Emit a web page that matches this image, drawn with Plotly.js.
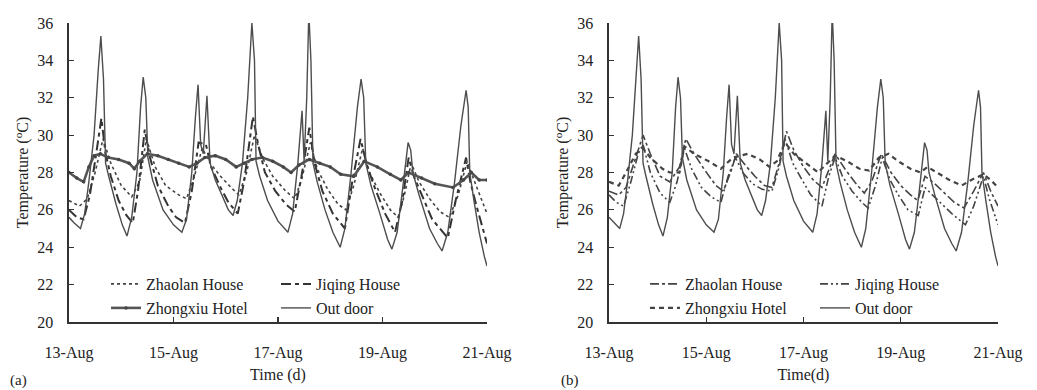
<!DOCTYPE html>
<html><head><meta charset="utf-8">
<script src="https://cdn.plot.ly/plotly-3.0.1.min.js"></script>
<style>html,body{margin:0;padding:0;background:#fff}#chart{width:1037px;height:390px}</style>
</head><body><div id="chart"></div>
<script>
// ---------- data (x = days since 13-Aug 00:00, y = temperature in °C) ----------
const tickDays = [0, 2, 4, 6, 8];
const tickLabels = ['13-Aug', '15-Aug', '17-Aug', '19-Aug', '21-Aug'];
const seriesNames = ['Zhaolan House', 'Jiqing House', 'Zhongxiu Hotel', 'Out door'];

// Outdoor air (same record in both panels)
const outdoorDays = [0.00,0.10,0.22,0.30,0.38,0.48,0.56,0.61,0.66,0.70,0.76,0.90,1.02,1.11,1.20,1.30,1.37,1.42,1.47,1.51,1.60,1.80,2.00,2.16,2.25,2.35,2.42,2.47,2.52,2.57,2.64,2.70,2.80,2.95,3.05,3.14,3.22,3.32,3.42,3.50,3.55,3.58,3.65,3.80,4.00,4.19,4.28,4.38,4.46,4.50,4.55,4.59,4.63,4.67,4.75,4.90,5.05,5.19,5.28,5.40,5.52,5.59,5.64,5.68,5.78,5.95,6.10,6.18,6.28,6.38,6.45,6.49,6.54,6.58,6.70,6.90,7.05,7.14,7.25,7.38,7.50,7.60,7.64,7.67,7.75,7.85,7.95,8.00];
const outdoorTemp = [25.6,25.3,25.0,25.8,27.5,30.0,33.5,35.3,33.0,28.5,27.8,26.3,25.2,24.6,25.6,28.0,31.5,33.1,32.0,28.8,27.6,26.0,25.2,24.8,25.5,28.0,31.0,32.7,29.5,29.0,32.1,28.5,27.6,26.6,26.0,25.7,26.5,28.5,32.0,36.0,34.0,28.6,27.8,26.5,25.4,24.8,25.8,28.5,31.3,28.6,32.0,36.6,34.0,28.5,27.5,26.0,24.8,24.0,25.0,28.0,31.5,33.0,32.0,28.5,27.3,25.8,24.4,23.9,24.8,27.0,28.8,29.6,29.2,28.0,26.8,25.0,24.2,23.8,24.8,27.5,30.5,32.4,31.5,28.0,26.5,24.8,23.5,23.0];

// Panel (a)
const aZhaolanDays = [0.00,0.20,0.35,0.50,0.65,0.80,1.00,1.20,1.35,1.48,1.65,1.85,2.10,2.25,2.40,2.55,2.70,2.90,3.10,3.25,3.40,3.55,3.70,3.90,4.15,4.32,4.45,4.62,4.75,4.95,5.15,5.30,5.45,5.62,5.75,5.95,6.15,6.30,6.42,6.55,6.70,6.90,7.10,7.28,7.45,7.62,7.75,7.90,8.00];
const aZhaolanTemp = [26.5,26.2,26.6,28.0,29.8,28.5,27.3,26.7,27.5,29.8,28.3,27.3,26.8,26.6,27.8,29.3,28.5,27.8,27.2,26.8,28.0,30.0,28.8,27.8,27.0,26.6,27.6,29.6,28.2,27.1,26.3,26.0,27.3,29.3,28.0,26.9,26.0,25.6,26.8,28.5,27.5,26.6,25.9,25.6,26.8,28.6,27.6,26.5,25.8];

const aJiqingDays = [0.00,0.15,0.28,0.40,0.52,0.62,0.70,0.80,0.95,1.10,1.22,1.32,1.45,1.55,1.70,1.90,2.05,2.22,2.35,2.48,2.62,2.72,2.90,3.05,3.23,3.35,3.52,3.62,3.75,3.95,4.15,4.32,4.45,4.60,4.70,4.85,5.05,5.28,5.42,5.58,5.70,5.85,6.05,6.24,6.38,6.50,6.60,6.75,6.95,7.25,7.40,7.60,7.68,7.80,8.00];
const aJiqingTemp = [26.0,25.6,25.5,26.8,29.0,30.9,29.0,27.8,26.5,25.7,25.3,27.0,30.3,28.8,27.3,26.2,25.6,25.3,27.0,29.6,29.5,28.3,27.2,26.4,25.8,27.5,31.0,29.5,28.0,27.0,26.3,25.9,27.8,30.4,28.5,27.0,25.8,25.0,27.5,29.8,28.4,27.2,25.8,24.8,26.5,28.8,27.8,26.8,25.5,24.5,26.5,28.8,27.5,26.2,24.2];

const aZhongxiuDays = [0.00,0.15,0.28,0.38,0.48,0.60,0.75,0.95,1.15,1.25,1.35,1.50,1.70,1.90,2.10,2.30,2.45,2.60,2.80,3.00,3.20,3.35,3.50,3.70,3.90,4.10,4.25,4.40,4.60,4.80,5.00,5.20,5.45,5.65,5.90,6.15,6.35,6.50,6.75,7.00,7.35,7.55,7.70,7.85,8.00];
const aZhongxiuTemp = [28.0,27.7,27.5,28.3,28.9,29.0,28.8,28.7,28.5,28.2,28.6,29.0,28.9,28.7,28.5,28.3,28.5,28.8,28.9,28.7,28.3,28.5,28.7,28.8,28.6,28.3,28.0,28.4,28.7,28.5,28.3,27.9,27.8,28.6,28.3,27.9,27.6,28.0,27.7,27.4,27.2,27.6,28.0,27.6,27.6];

// Panel (b)
const bZhaolanDays = [0.00,0.20,0.35,0.55,0.70,0.85,1.05,1.25,1.45,1.58,1.75,1.95,2.20,2.35,2.50,2.62,2.80,3.00,3.20,3.35,3.50,3.65,3.80,4.00,4.20,4.38,4.50,4.65,4.85,5.05,5.25,5.40,5.60,5.80,6.00,6.20,6.35,6.50,6.70,6.90,7.10,7.30,7.50,7.70,7.85,8.00];
const bZhaolanTemp = [27.0,26.8,27.2,28.8,30.0,29.0,27.8,27.5,28.3,29.8,29.0,28.2,27.3,27.0,28.0,29.0,28.4,27.8,27.3,27.2,28.5,30.2,29.2,28.3,27.6,27.2,28.0,29.0,28.2,27.5,26.9,27.5,29.0,28.0,27.3,26.8,26.5,27.8,27.4,26.9,26.4,26.1,27.0,28.0,27.0,26.2];

const bJiqingDays = [0.00,0.15,0.30,0.45,0.60,0.70,0.85,1.05,1.25,1.40,1.55,1.70,1.90,2.10,2.30,2.45,2.60,2.75,2.95,3.15,3.35,3.50,3.62,3.78,3.95,4.15,4.38,4.52,4.65,4.80,5.00,5.20,5.33,5.48,5.62,5.78,5.95,6.15,6.36,6.50,6.65,6.85,7.05,7.33,7.50,7.70,7.82,8.00];
const bJiqingTemp = [26.8,26.4,26.2,27.5,29.0,29.5,28.0,26.9,26.4,27.5,29.3,28.2,27.2,26.7,26.4,27.8,28.8,28.0,27.4,27.1,27.0,28.3,29.8,28.5,27.7,26.8,26.2,27.8,28.8,27.8,27.0,26.4,26.1,27.3,28.8,27.6,26.8,26.0,25.7,27.2,26.8,26.3,25.8,25.2,26.2,27.8,26.6,25.2];

const bZhongxiuDays = [0.00,0.20,0.35,0.55,0.70,0.85,1.10,1.25,1.45,1.55,1.75,2.05,2.30,2.55,2.85,3.10,3.30,3.45,3.62,3.80,4.05,4.30,4.45,4.65,4.90,5.15,5.35,5.55,5.75,5.95,6.20,6.40,6.55,6.75,7.00,7.25,7.45,7.70,7.85,8.00];
const bZhongxiuTemp = [27.5,27.3,28.0,29.0,29.3,28.8,28.2,28.0,28.0,29.4,29.0,28.6,28.2,28.8,29.0,28.7,28.3,28.6,29.6,29.0,28.5,28.0,28.4,28.9,28.6,28.2,28.1,28.8,29.0,28.6,28.2,28.0,28.3,28.0,27.6,27.3,27.6,27.9,27.6,27.2];

// ---------- drawing ----------
const F = 'Liberation Serif, Times New Roman, serif';
const INK = '#444';

function tr(x, y, name, xa, ya, leg, line, extra) {
  return Object.assign({x: x, y: y, name: name, type: 'scatter', mode: 'lines',
    xaxis: xa, yaxis: ya, legend: leg, line: line, hoverinfo: 'skip'}, extra || {});
}

const data = [
  tr(aZhaolanDays, aZhaolanTemp, seriesNames[0], 'x', 'y', 'legend', {color: INK, width: 1.6, dash: 'dot'}),
  tr(aJiqingDays, aJiqingTemp, seriesNames[1], 'x', 'y', 'legend', {color: '#333', width: 2, dash: '10px,4px,4px,4px'}),
  tr(aZhongxiuDays, aZhongxiuTemp, seriesNames[2], 'x', 'y', 'legend2', {color: '#555', width: 2.6},
     {mode: 'lines+markers', marker: {size: 3.5, color: '#444'}}),
  tr(outdoorDays, outdoorTemp, seriesNames[3], 'x', 'y', 'legend2', {color: '#4d4d4d', width: 1.4}),

  tr(bZhaolanDays, bZhaolanTemp, seriesNames[0], 'x2', 'y2', 'legend3', {color: INK, width: 1.6, dash: 'dashdot'}),
  tr(bJiqingDays, bJiqingTemp, seriesNames[1], 'x2', 'y2', 'legend3', {color: INK, width: 1.6, dash: '8px,3px,2px,3px,2px,3px'}),
  tr(bZhongxiuDays, bZhongxiuTemp, seriesNames[2], 'x2', 'y2', 'legend4', {color: '#444', width: 2.2, dash: '5px,4px'}),
  tr(outdoorDays, outdoorTemp, seriesNames[3], 'x2', 'y2', 'legend4', {color: '#4d4d4d', width: 1.4})
];

const W = 1037, H = 390;
const yDom = [1 - 322 / H, 1 - 23 / H];

function xAxis(dom, anchor, title) {
  return {domain: dom, anchor: anchor, range: [0, 8], tickvals: tickDays, ticktext: tickLabels,
    ticks: 'inside', ticklen: 5, tickwidth: 1.2, tickcolor: '#333', showline: true, linecolor: '#333',
    linewidth: 1.6, showgrid: false, zeroline: false, ticklabelstandoff: 15,
    tickfont: {family: F, size: 16, color: '#222'},
    title: {text: title, font: {family: F, size: 16, color: '#222'}, standoff: 8}};
}
function yAxis(anchor) {
  return {domain: yDom, anchor: anchor, range: [20, 36], dtick: 2, ticks: 'inside', ticklen: 5,
    tickwidth: 1.2, tickcolor: '#333', showline: true, linecolor: '#333', linewidth: 1.6,
    showgrid: false, zeroline: false, ticklabelstandoff: 11,
    tickfont: {family: F, size: 16, color: '#222'},
    title: {text: 'Temperature (<sup>o</sup>C)', font: {family: F, size: 16, color: '#222'}, standoff: 4}};
}
function leg(xpx, ypx) {
  return {x: xpx / W, y: 1 - ypx / H, xanchor: 'left', yanchor: 'middle', orientation: 'h',
    entrywidth: 125, entrywidthmode: 'pixels', bgcolor: 'rgba(0,0,0,0)', borderwidth: 0,
    font: {family: F, size: 16, color: '#222'}, traceorder: 'normal', itemclick: false};
}

const layout = {
  width: W, height: H, margin: {l: 0, r: 0, t: 0, b: 0},
  paper_bgcolor: '#fff', plot_bgcolor: 'rgba(0,0,0,0)',
  xaxis: xAxis([69 / W, 487 / W], 'y', 'Time (d)'),
  yaxis: yAxis('x'),
  xaxis2: xAxis([609 / W, 998 / W], 'y2', 'Time(d)'),
  yaxis2: yAxis('x2'),
  legend: leg(106, 284), legend2: leg(106, 308),
  legend3: leg(645, 284), legend4: leg(645, 308),
  annotations: [
    {text: '(a)', xref: 'paper', yref: 'paper', x: 8 / W, y: 1 - 380 / H, xanchor: 'left', yanchor: 'middle', showarrow: false, font: {family: F, size: 15, color: '#222'}},
    {text: '(b)', xref: 'paper', yref: 'paper', x: 559 / W, y: 1 - 380 / H, xanchor: 'left', yanchor: 'middle', showarrow: false, font: {family: F, size: 15, color: '#222'}}
  ]
};

Plotly.newPlot('chart', data, layout, {staticPlot: true, displayModeBar: false});
</script></body></html>
